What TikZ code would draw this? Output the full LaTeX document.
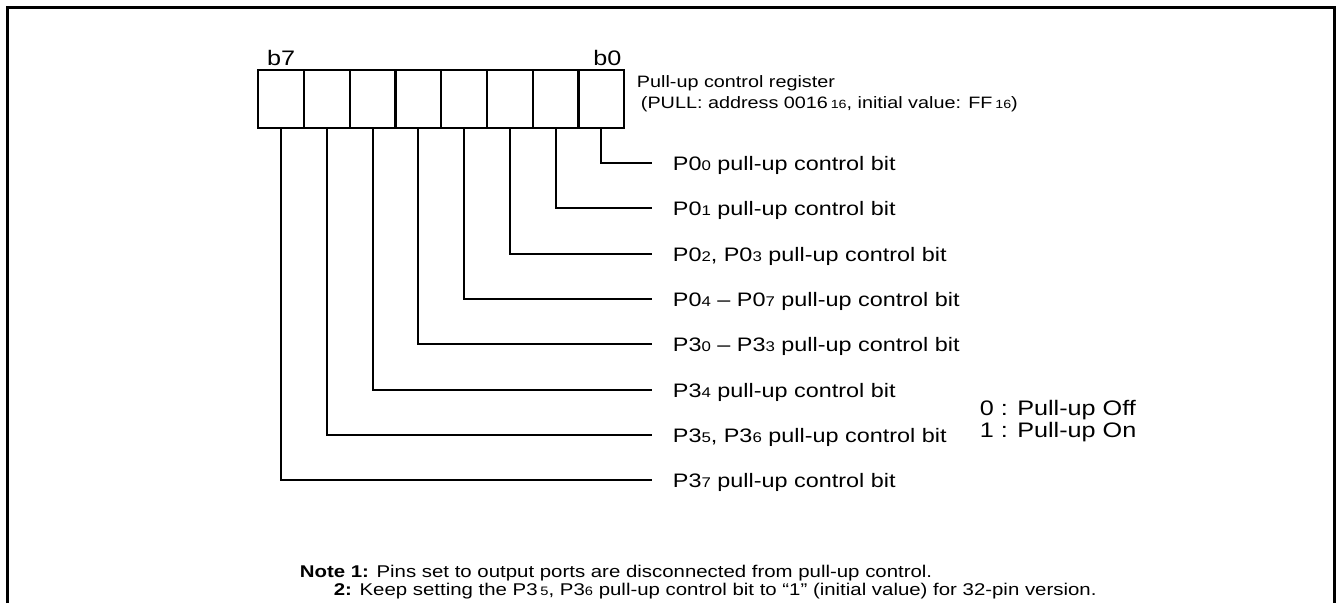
\documentclass[tikz,border=0pt]{standalone}
\usepackage{fontspec}
\setmainfont{Liberation Sans}[FakeStretch=1.2]
\usepackage{graphicx}
\usetikzlibrary{positioning}

\newcommand{\lo}[1]{\scalebox{0.72}{#1}}

\begin{document}
\begin{tikzpicture}[x=1pt, y=-1pt, line width=1.8pt,
    cell/.style={draw, line width=2.4pt, minimum width=45.75pt, minimum height=58pt, inner sep=0pt, outer sep=0pt},
    bitname/.style={font=\fontsize{21}{21}\selectfont, inner sep=1pt},
    bitlbl/.style={anchor=west, font=\fontsize{19.5}{22}\selectfont, inner sep=0pt, text height=14pt, text depth=0pt},
    small/.style={font=\fontsize{16.5}{21}\selectfont, inner sep=0pt, align=left}]
    \useasboundingbox (0,0) rectangle (1336,603);
    \draw[line width=3pt] (7,603) -- (7,7) -- (1334,7) -- (1334,603);

    % register cells, b7 on the left
    \node[cell] (c7) at (281.1,99) {};
    \node[cell, right=0pt of c7] (c6) {};
    \node[cell, right=0pt of c6] (c5) {};
    \node[cell, right=0pt of c5] (c4) {};
    \node[cell, right=0pt of c4] (c3) {};
    \node[cell, right=0pt of c3] (c2) {};
    \node[cell, right=0pt of c2] (c1) {};
    \node[cell, right=0pt of c1] (c0) {};
    \node[bitname, above=2pt of c7] (b7) {b7};
    \node[bitname, above=2pt of c0, xshift=6pt] (b0) {b0};

    \node[small, anchor=north west] (reg) at (636,75)
        {Pull-up control register\\\hspace*{4pt}(PULL: address 0016\,\lo{16}, initial value: FF\,\lo{16})};

    % bit labels
    \node[bitlbl] (l0) at (672,163) {P0\lo{0} pull-up control bit};
    \node[bitlbl] (l1) at (672,208) {P0\lo{1} pull-up control bit};
    \node[bitlbl] (l2) at (672,254) {P0\lo{2}, P0\lo{3} pull-up control bit};
    \node[bitlbl] (l3) at (672,299) {P0\lo{4} -- P0\lo{7} pull-up control bit};
    \node[bitlbl] (l4) at (672,344) {P3\lo{0} -- P3\lo{3} pull-up control bit};
    \node[bitlbl] (l5) at (672,390) {P3\lo{4} pull-up control bit};
    \node[bitlbl] (l6) at (672,435) {P3\lo{5}, P3\lo{6} pull-up control bit};
    \node[bitlbl] (l7) at (672,480) {P3\lo{7} pull-up control bit};

    \draw (c0.south) |- ([xshift=-20pt]l0.west);
    \draw (c1.south) |- ([xshift=-20pt]l1.west);
    \draw (c2.south) |- ([xshift=-20pt]l2.west);
    \draw (c3.south) |- ([xshift=-20pt]l3.west);
    \draw (c4.south) |- ([xshift=-20pt]l4.west);
    \draw (c5.south) |- ([xshift=-20pt]l5.west);
    \draw (c6.south) |- ([xshift=-20pt]l6.west);
    \draw (c7.south) |- ([xshift=-20pt]l7.west);

    \node[bitlbl, align=left, text height=, text depth=, font=\fontsize{21}{22}\selectfont] (key) at (979,421)
        {0 : Pull-up Off\\1 : Pull-up On};

    \node[small, anchor=north west, font=\fontsize{17}{18}\selectfont] (note) at (299,564)
        {\textbf{Note 1:} Pins set to output ports are disconnected from pull-up control.\\
         \hspace*{34pt}\textbf{2:} Keep setting the P3\,\lo{5}, P3\lo{6} pull-up control bit to “1” (initial value) for 32-pin version.};
\end{tikzpicture}
\end{document}
